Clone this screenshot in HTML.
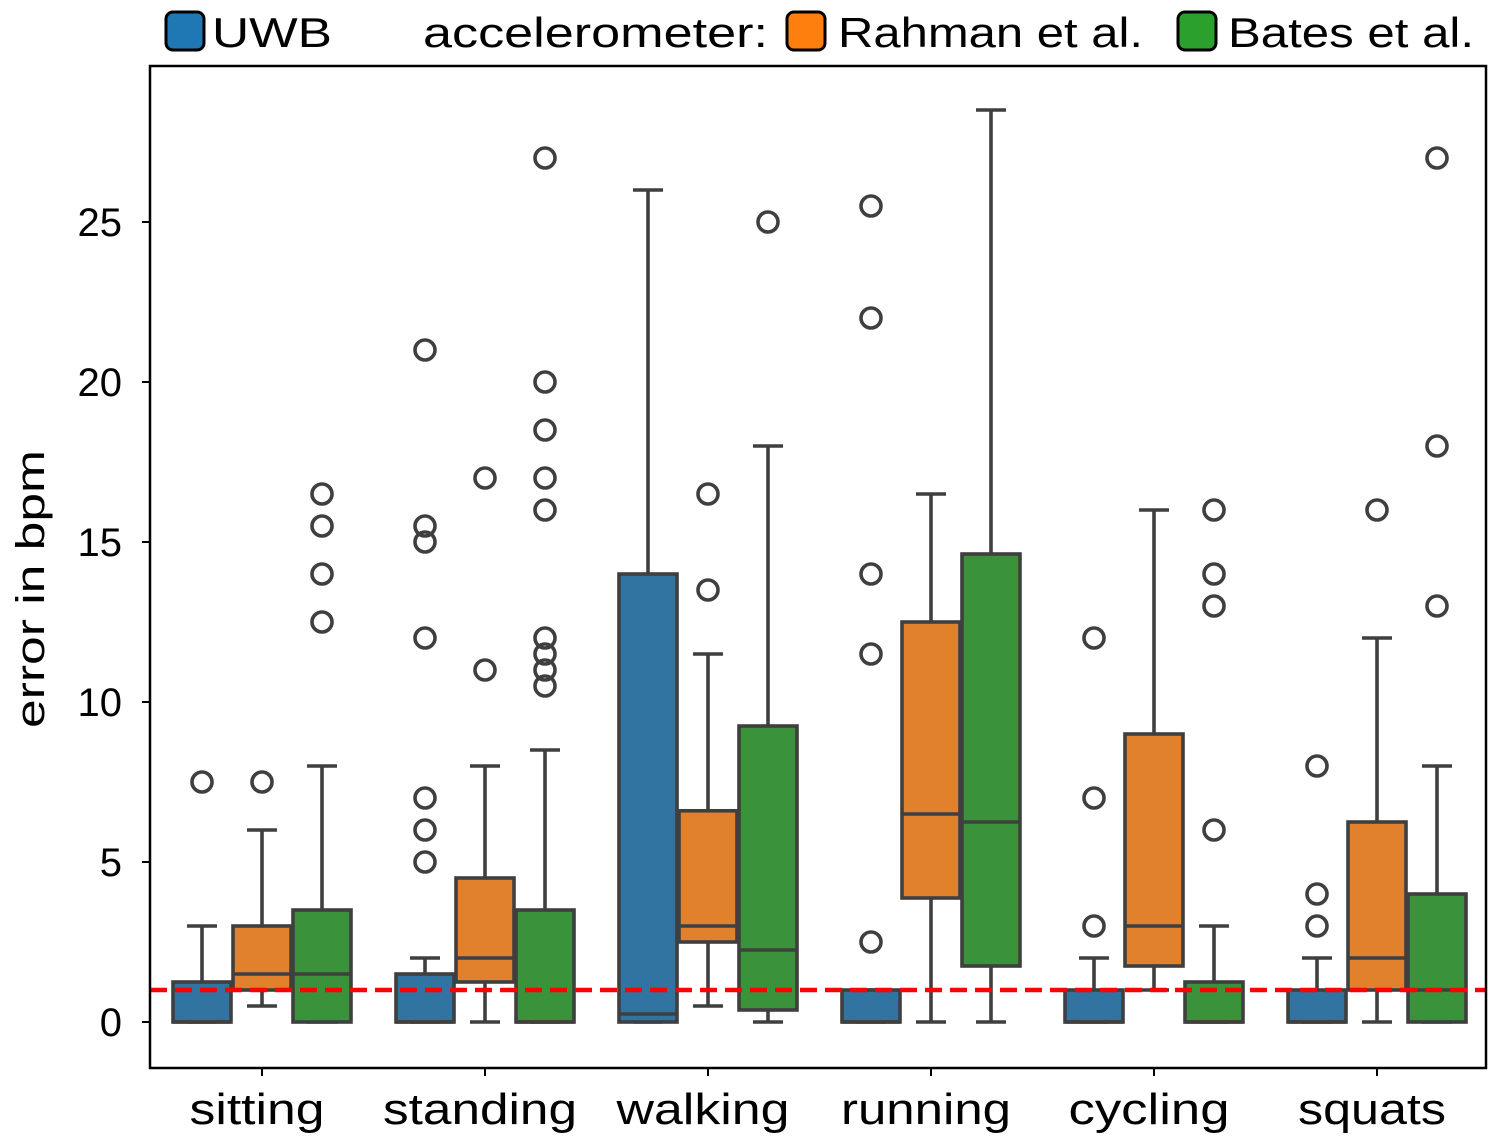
<!DOCTYPE html>
<html><head><meta charset="utf-8"><style>
body{margin:0;background:#fff;}
svg{display:block;font-family:"Liberation Sans","DejaVu Sans",sans-serif;}
</style></head><body>
<svg id="chart" width="1492" height="1148" viewBox="0 0 1492 1148"></svg>
<script>
const categories=["sitting","standing","walking","running","cycling","squats"];
const seriesNames=["UWB","Rahman et al.","Bates et al."];
const colors=["#3274a1","#e1812c","#3a923a"];
const legendColors=["#1f77b4","#ff7f0e","#2ca02c"];
// [whiskerLow, q1, median, q3, whiskerHigh]
const uwbStats=[[0,0,0,1.25,3],[0,0,0,1.5,2],[0,0,0.25,14,26],[0,0,0,1,1],[0,0,0,1,2],[0,0,0,1,2]];
const rahmanStats=[[0.5,1,1.5,3,6],[0,1.25,2,4.5,8],[0.5,2.5,3,6.6,11.5],[0,3.875,6.5,12.5,16.5],[1,1.75,3,9,16],[0,1,2,6.25,12]];
const batesStats=[[0,0,1.5,3.5,8],[0,0,0,3.5,8.5],[0,0.375,2.25,9.25,18],[0,1.75,6.25,14.625,28.5],[0,0,0,1.25,3],[0,0,1,4,8]];
const uwbOut=[[7.5],[5,6,7,12,15,15.5,21],[],[2.5,11.5,14,22,25.5],[3,7,12],[3,4,8]];
const rahmanOut=[[7.5],[11,17],[13.5,16.5],[],[],[16]];
const batesOut=[[12.5,14,15.5,16.5],[10.5,11,11.5,12,16,17,18.5,20,27],[25],[],[6,13,14,16],[13,18,27]];
const yTicks=[0,5,10,15,20,25];
const refLine=1;

const NS="http://www.w3.org/2000/svg";
const svg=document.getElementById("chart");
const L=150,R=1486,T=66,B=1068;
const y=v=>1022-v*32;
const xc=i=>262+i*223;
const bw=60;
const xLabelW=[135,194,173,170,161,148];
function el(tag,attrs,parent){const e=document.createElementNS(NS,tag);for(const k in attrs)e.setAttribute(k,attrs[k]);(parent||svg).appendChild(e);return e;}
const stats=[uwbStats,rahmanStats,batesStats];
const outs=[uwbOut,rahmanOut,batesOut];
const ec="#3f3f3f";
const sw0=3.6;
categories.forEach((c,i)=>{
  for(let s=0;s<3;s++){
    const st=stats[s][i];const cx=xc(i)+(s-1)*bw;
    const g=el("g",{});
    
    
    el("line",{x1:cx,x2:cx,y1:y(st[3]),y2:y(st[4]),stroke:ec,"stroke-width":sw0},g);
    el("line",{x1:cx,x2:cx,y1:y(st[0]),y2:y(st[1]),stroke:ec,"stroke-width":sw0},g);
    el("line",{x1:cx-15,x2:cx+15,y1:y(st[4]),y2:y(st[4]),stroke:ec,"stroke-width":sw0},g);
    el("line",{x1:cx-15,x2:cx+15,y1:y(st[0]),y2:y(st[0]),stroke:ec,"stroke-width":sw0},g);
    el("rect",{x:cx-bw/2+1,y:y(st[3]),width:bw-2,height:Math.max(0,y(st[1])-y(st[3])),fill:colors[s],stroke:ec,"stroke-width":sw0},g);
    el("line",{x1:cx-bw/2+1,x2:cx+bw/2-1,y1:y(st[2]),y2:y(st[2]),stroke:ec,"stroke-width":sw0},g);
    outs[s][i].forEach(v=>{
      const o=el("circle",{cx:cx,cy:y(v),r:10,fill:"none",stroke:ec,"stroke-width":sw0},g);
      
      
    });
  }
  el("line",{x1:xc(i),x2:xc(i),y1:B,y2:B+8,stroke:"#000","stroke-width":2});
  const t=el("text",{x:xc(i)-5,y:1124,"font-size":44,"text-anchor":"middle",textLength:xLabelW[i],lengthAdjust:"spacingAndGlyphs"});
  t.textContent=c;
  
  
});
const rl=el("line",{x1:L,x2:R,y1:y(refLine),y2:y(refLine),stroke:"#ff0000","stroke-width":4.5,"stroke-dasharray":"17,8"});


yTicks.forEach(v=>{
  el("line",{x1:L-8,x2:L,y1:y(v),y2:y(v),stroke:"#000","stroke-width":2});
  const t=el("text",{x:122,y:y(v)+14,"font-size":40,"text-anchor":"end"});
  t.textContent=v;
  
  
});
el("rect",{x:L,y:T,width:R-L,height:B-T,fill:"none",stroke:"#000","stroke-width":2.5});
const yl=el("text",{x:0,y:0,"font-size":40,"text-anchor":"middle",textLength:278,lengthAdjust:"spacingAndGlyphs",transform:"translate(44,589) rotate(-90)"});
yl.textContent="error in bpm";


// legend
const lg=el("g",{});


function sw(x,col){el("rect",{x:x,y:12,width:38,height:38,rx:7,fill:col,stroke:"#000","stroke-width":3},lg);}
function tx(x,s,w){const t=el("text",{x:x,y:47,"font-size":42,textLength:w,lengthAdjust:"spacingAndGlyphs"},lg);t.textContent=s;return t;}
sw(166,legendColors[0]);tx(212,"UWB",120);
tx(423,"accelerometer:",345);
sw(787,legendColors[1]);tx(838,"Rahman et al.",305);
sw(1178,legendColors[2]);tx(1228,"Bates et al.",246);
</script>
</body></html>
